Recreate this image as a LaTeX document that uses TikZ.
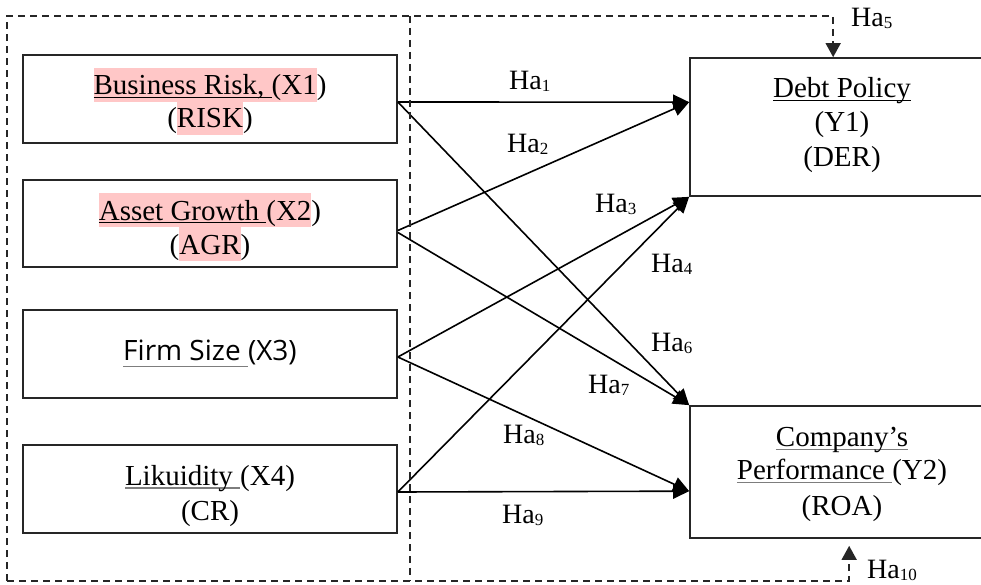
\documentclass[tikz,border=0pt]{standalone}
\usepackage{fontspec}
\setmainfont{Liberation Serif}
\newfontfamily\sansfirm{Open Sans}
\usetikzlibrary{arrows.meta,calc}
\definecolor{hlpink}{RGB}{255,199,199}
\definecolor{ulgray}{RGB}{125,125,125}
% underline: colour, depth below baseline, text
\newsavebox\ulbox
\newcommand\ulinat[3]{\sbox\ulbox{#3}\rlap{\color{#1}\rule[-#2]{\wd\ulbox}{1.3pt}}\usebox\ulbox}
% highlighted text
\newsavebox\hlbox
\newcommand\hlt[1]{\sbox\hlbox{#1}\rlap{\color{hlpink}\rule[-7pt]{\wd\hlbox}{34pt}}\usebox\hlbox}
% hypothesis label
\newcommand\ha[1]{Ha\raisebox{-2pt}{\fontsize{17}{17}\selectfont #1}}
\begin{document}
\begin{tikzpicture}[x=1pt,y=-1pt,
  box/.style={draw=black!85, line width=1.7pt, inner sep=0pt, rectangle},
  txt/.style={anchor=base, inner sep=0pt, font=\fontsize{29}{35}\selectfont},
  arrowline/.style={draw, line width=1.6pt, -{Triangle[length=16pt,width=15pt]}},
  dashline/.style={draw=black!85, line width=1.5pt, dash pattern=on 7pt off 5pt},
  dasharrow/.style={dashline, -{Triangle[length=14pt,width=15pt]}},
  hlab/.style={anchor=base west, inner sep=0pt, font=\fontsize{28}{30}\selectfont}]
\useasboundingbox (0,0) rectangle (981,585);
\clip (0,0) rectangle (981,585);

% independent variables
\node[box, minimum width=374pt, minimum height=88pt] (x1) at (210,99) {};
\node[box, minimum width=374pt, minimum height=87pt] (x2) at (210,223.5) {};
\node[box, minimum width=374pt, minimum height=88pt] (x3) at (210,354) {};
\node[box, minimum width=374pt, minimum height=88pt] (x4) at (210,489) {};

\node[txt] (t1a) at (210,95) {\hlt{\ulinat{black}{3.5pt}{Business Risk,\ }(X1})};
\node[txt] (t1b) at (210,128) {(\hlt{RISK})};
\node[txt] (t2a) at (210,220) {\hlt{\ulinat{black}{3.5pt}{Asset Growth\ }(X2})};
\node[txt] (t2b) at (210,254) {(\hlt{AGR})};
\node[txt, font=\sansfirm\fontsize{28}{34}\selectfont] (t3) at (210,360) {\ulinat{ulgray}{7pt}{Firm Size\ }(X3)};
\node[txt] (t4a) at (210,485) {\ulinat{ulgray}{3.5pt}{Likuidity\ }(X4)};
\node[txt] (t4b) at (210,520) {(CR)};

% dependent variables
\node[box, minimum width=305pt, minimum height=138pt] (y1) at (842.5,127) {};
\node[box, minimum width=305pt, minimum height=132pt] (y2) at (842.5,472) {};

\node[txt] (u1a) at (842,98) {\ulinat{black}{3pt}{Debt Policy}};
\node[txt] (u1b) at (842,132) {(Y1)};
\node[txt] (u1c) at (842,167) {(DER)};
\node[txt] (u2a) at (842,446) {\ulinat{ulgray}{4pt}{Company’s}};
\node[txt] (u2b) at (842,479) {\ulinat{ulgray}{4pt}{Performance\ }(Y2)};
\node[txt] (u2c) at (842,515) {(ROA)};

% entry points on the dependent boxes
\coordinate (y1in) at ($(y1.north west)+(0,45)$);
\coordinate (y2in) at ($(y2.north west)+(0,86)$);

% direct paths
\draw[arrowline] ($(x1.east)+(0,3)$) -- (y1in);
\draw[arrowline] ($(x2.east)+(0,7)$) -- (y1in);
\draw[arrowline] ($(x3.east)+(0,3)$) -- (y1.south west);
\draw[arrowline] ($(x4.east)+(0,3)$) -- (y1.south west);
\draw[arrowline] ($(x1.east)+(0,3)$) -- (y2.north west);
\draw[arrowline] ($(x2.east)+(0,9)$) -- (y2.north west);
\draw[arrowline] ($(x3.east)+(0,3)$) -- (y2in);
\draw[arrowline] ($(x4.east)+(0,3)$) -- (y2in);

% simultaneous paths (dashed frame)
\coordinate (ftl) at (7,16);
\coordinate (fbl) at (7,581);
\coordinate (fmt) at (410,16);
\coordinate (fmb) at (410,581);
\coordinate (y1top) at ($(y1.north west)+(144,0)$);
\coordinate (y2bot) at ($(y2.south west)+(160,7)$);
\draw[dasharrow] (fbl) -- (ftl) -- (y1top |- ftl) -- (y1top);
\draw[dasharrow] (fbl) -- (y2bot |- fbl) -- (y2bot);
\draw[dashline] (fmt) -- (fmb);

% hypothesis labels
\node[hlab] (h1) at (509,90) {\ha{1}};
\node[hlab] (h2) at (507,153) {\ha{2}};
\node[hlab] (h3) at (595,212) {\ha{3}};
\node[hlab] (h4) at (651,272) {\ha{4}};
\node[hlab] (h5) at (851,27) {\ha{5}};
\node[hlab] (h6) at (651,351) {\ha{6}};
\node[hlab] (h7) at (588,393) {\ha{7}};
\node[hlab] (h8) at (503,443) {\ha{8}};
\node[hlab] (h9) at (502,523) {\ha{9}};
\node[hlab] (h10) at (867,578) {\ha{10}};
\end{tikzpicture}
\end{document}
